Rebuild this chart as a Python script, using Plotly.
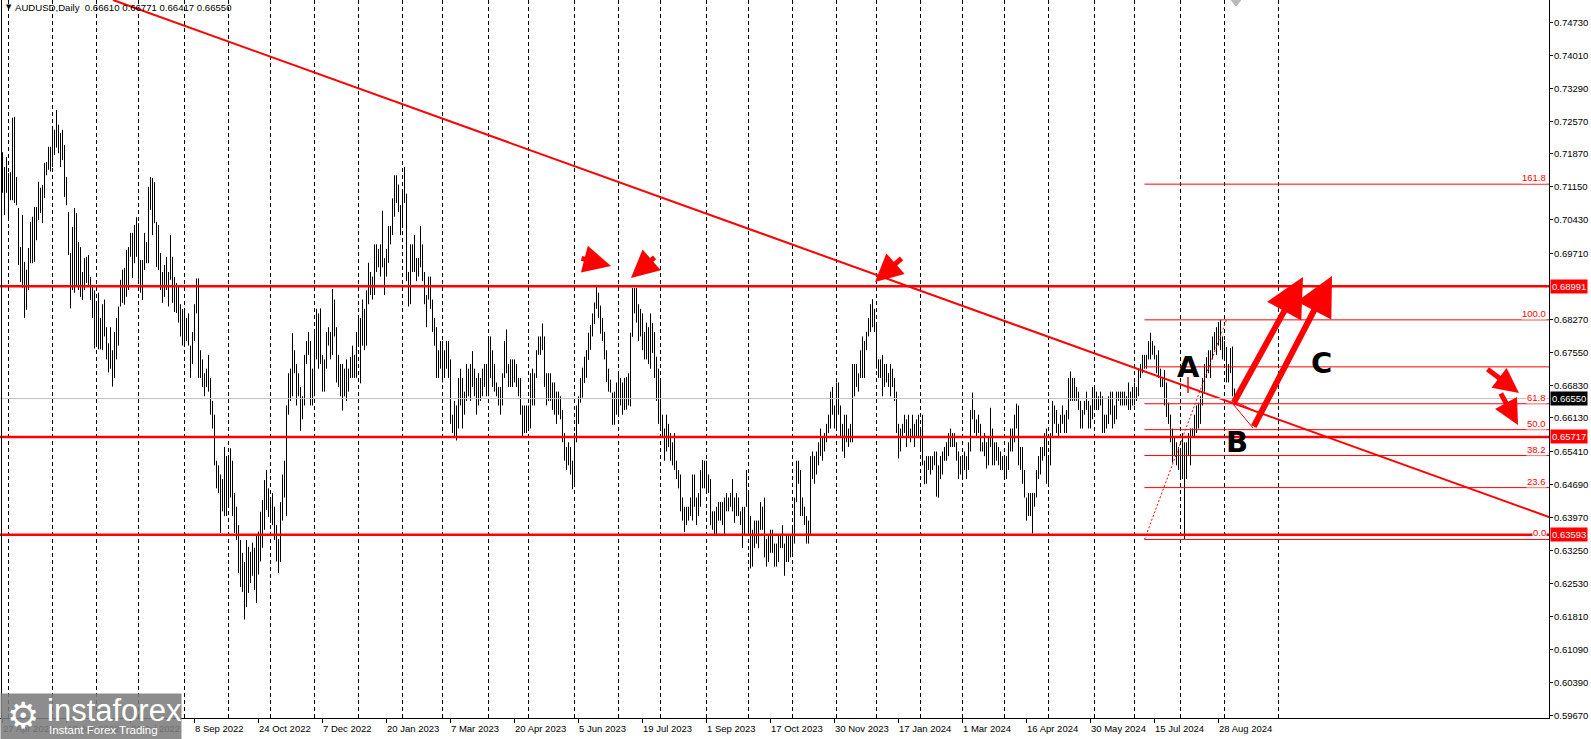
import plotly.graph_objects as go
import pandas as pd

# ---------------- data (prices in 1/10000) ----------------
H22 = [7190, 7158, 7180,
       7145, 7147, 7265, 7267, 7136, 7069, 6984, 7054, 6952, 6935, 6982, 7039, 7050, 7071, 7071, 7126, 7113, 7119, 7167, 7169, 7202, 7202,
       7239, 7239, 7282, 7250, 7232, 7239, 7206, 7136, 7060, 6971, 7028, 7069, 7058, 6995, 6984, 6930, 6960, 6963, 6967, 6919, 6902, 6890,
       6860, 6885, 6830, 6860, 6870, 6810, 6775, 6810, 6760, 6800, 6830, 6855, 6913, 6935, 6939, 6978, 6984, 7015, 7015, 7032, 7049,
       7036, 6956, 6956, 7015, 6995, 7115, 7136, 7134, 7125, 7039, 7032, 6971, 6930, 6945, 6963, 6930, 7010, 6963, 6919, 6906, 6900, 6860, 6850,
       6845, 6830, 6840, 6770, 6800, 6860, 6916, 6916, 6760, 6740, 6710, 6720, 6750, 6700, 6650, 6620, 6520, 6510, 6490, 6480, 6550, 6530,
       6530, 6547, 6520, 6450, 6420, 6380, 6348, 6320, 6300, 6348, 6333, 6322, 6342, 6331, 6359, 6366, 6409, 6435, 6478, 6500, 6460,
       6440, 6450, 6420, 6380, 6350, 6430, 6490, 6520, 6640, 6710, 6720, 6797, 6760, 6730, 6710, 6680, 6660, 6750, 6780, 6800, 6780, 6720,
       6800, 6850, 6840, 6851, 6750, 6740, 6800, 6810, 6800, 6893, 6870, 6810, 6750, 6730, 6730, 6720, 6740, 6720, 6745, 6770, 6750, 6800]
L22 = [7102, 7054, 7102,
       7043, 7086, 7086, 7080, 7075, 6945, 6908, 6896, 6830, 6848, 6891, 6949, 6949, 6952, 6999, 7043, 7058, 7036, 7091, 7140, 7152, 7148,
       7158, 7184, 7200, 7188, 7158, 7173, 7093, 7075, 6967, 6851, 6891, 6885, 6898, 6891, 6876, 6869, 6891, 6906, 6898, 6869, 6830, 6764,
       6770, 6762, 6762, 6760, 6790, 6740, 6712, 6720, 6681, 6700, 6740, 6770, 6855, 6863, 6859, 6876, 6891, 6963, 6917, 6949, 6963,
       6913, 6885, 6869, 6934, 6949, 6949, 7065, 7010, 7036, 6941, 6934, 6891, 6863, 6876, 6891, 6855, 6913, 6863, 6843, 6841, 6820, 6790, 6770,
       6770, 6780, 6770, 6700, 6730, 6780, 6840, 6700, 6700, 6680, 6660, 6680, 6670, 6620, 6590, 6510, 6460, 6450, 6363, 6410, 6400, 6400,
       6420, 6440, 6400, 6363, 6348, 6276, 6246, 6235, 6175, 6202, 6233, 6254, 6270, 6239, 6211, 6273, 6301, 6331, 6370, 6413, 6398,
       6385, 6380, 6348, 6301, 6276, 6300, 6390, 6440, 6400, 6620, 6650, 6660, 6710, 6640, 6660, 6585, 6610, 6640, 6730, 6750, 6640, 6640,
       6660, 6740, 6720, 6730, 6670, 6670, 6720, 6770, 6740, 6750, 6790, 6690, 6680, 6660, 6629, 6660, 6650, 6670, 6700, 6700, 6700, 6700]

H23 = [6830, 6830, 6870, 6850, 6890, 6950, 6930, 6920, 6990, 6990, 6980, 6990, 7063, 6960, 6980, 7030, 7030, 7090, 7140, 7140, 7120, 7075,
       7110, 7158, 7100, 6930, 6990, 6990, 7010, 6960, 6960, 7030, 6990, 6930, 6880, 6920, 6920, 6870, 6830, 6810, 6760, 6780,
       6780, 6760, 6780, 6780, 6740, 6620, 6650, 6640, 6700, 6720, 6700, 6670, 6730, 6720, 6730, 6758, 6720, 6700, 6710, 6700, 6720, 6730, 6730,
       6790, 6790, 6760, 6730, 6690, 6680, 6680, 6710, 6780, 6805, 6730, 6740, 6740, 6740, 6730, 6700, 6700, 6640, 6640, 6640,
       6640, 6710, 6720, 6710, 6760, 6790, 6790, 6818, 6790, 6710, 6710, 6710, 6690, 6690, 6670, 6670, 6660, 6630, 6580, 6550, 6560, 6550, 6520,
       6580, 6640, 6660, 6700, 6722, 6746, 6760, 6798, 6815, 6840, 6864, 6902, 6885, 6857, 6830, 6800, 6760, 6720, 6696, 6668, 6670, 6690,
       6707, 6700, 6690, 6700, 6702, 6710, 6798, 6895, 6895, 6895, 6860, 6850, 6840, 6800, 6820, 6810, 6840, 6819, 6800, 6746, 6720,
       6700, 6620, 6590, 6620, 6600, 6580, 6560, 6580, 6520, 6500, 6490, 6440, 6420, 6420, 6420, 6440, 6490, 6490, 6440, 6450, 6500, 6522, 6520,
       6520, 6490, 6480, 6410, 6410, 6420, 6430, 6430, 6430, 6440, 6450, 6440, 6450, 6480, 6440, 6450, 6440, 6410, 6420, 6420, 6500,
       6450, 6400, 6370, 6390, 6390, 6390, 6430, 6420, 6440, 6350, 6360, 6370, 6370, 6340, 6340, 6360, 6360, 6380, 6340, 6360, 6360, 6360,
       6380, 6440, 6520, 6520, 6500, 6440, 6420, 6400, 6390, 6530, 6540, 6530, 6540, 6560, 6590, 6570, 6580, 6600, 6620, 6670, 6680, 6640,
       6690, 6690, 6640, 6600, 6620, 6620, 6590, 6600, 6730, 6730, 6730, 6710, 6760, 6790, 6780, 6800, 6830, 6860, 6871, 6850]
L23 = [6770, 6688, 6770, 6760, 6770, 6860, 6880, 6870, 6880, 6930, 6940, 6920, 6940, 6880, 6920, 6950, 6990, 7010, 7050, 7080, 7060, 7010,
       7030, 7080, 6910, 6855, 6860, 6930, 6930, 6910, 6920, 6940, 6910, 6860, 6810, 6870, 6850, 6800, 6770, 6700, 6700, 6720,
       6690, 6700, 6720, 6700, 6600, 6580, 6570, 6564, 6590, 6640, 6590, 6620, 6650, 6660, 6650, 6680, 6660, 6620, 6640, 6650, 6660, 6680, 6660,
       6660, 6700, 6680, 6670, 6660, 6640, 6620, 6640, 6700, 6710, 6680, 6680, 6680, 6690, 6680, 6660, 6620, 6573, 6580, 6580,
       6590, 6590, 6640, 6640, 6700, 6750, 6750, 6760, 6680, 6640, 6650, 6650, 6630, 6620, 6600, 6620, 6610, 6560, 6520, 6500, 6510, 6490, 6458,
       6470, 6560, 6600, 6646, 6657, 6689, 6700, 6739, 6761, 6790, 6817, 6850, 6830, 6796, 6780, 6740, 6691, 6670, 6668, 6598, 6598, 6620,
       6616, 6640, 6620, 6630, 6631, 6640, 6638, 6789, 6840, 6820, 6780, 6790, 6760, 6740, 6740, 6730, 6720, 6754, 6700, 6650, 6600,
       6587, 6570, 6520, 6540, 6550, 6520, 6510, 6500, 6480, 6460, 6410, 6390, 6365, 6380, 6390, 6400, 6390, 6420, 6380, 6400, 6420, 6460, 6460,
       6450, 6450, 6380, 6370, 6357, 6360, 6390, 6390, 6380, 6360, 6410, 6410, 6420, 6410, 6385, 6400, 6400, 6380, 6330, 6360, 6420,
       6360, 6286, 6290, 6330, 6340, 6330, 6370, 6370, 6310, 6290, 6300, 6320, 6320, 6290, 6290, 6300, 6330, 6330, 6270, 6300, 6300, 6310,
       6320, 6340, 6430, 6470, 6400, 6400, 6380, 6340, 6340, 6360, 6480, 6470, 6490, 6510, 6530, 6520, 6540, 6560, 6580, 6590, 6620, 6590,
       6590, 6620, 6570, 6540, 6526, 6560, 6550, 6560, 6560, 6660, 6680, 6670, 6700, 6700, 6700, 6760, 6790, 6800, 6810, 6800]

H24 = [6820, 6740, 6740, 6750, 6730, 6730, 6710, 6730, 6720, 6700, 6670, 6600, 6590, 6600, 6620, 6610, 6620, 6590, 6620, 6600, 6610, 6620,
       6590, 6620, 6520, 6530, 6530, 6530, 6530, 6540, 6540, 6510, 6530, 6540, 6550, 6560, 6580, 6590, 6580, 6580, 6560, 6540, 6530,
       6530, 6540, 6530, 6560, 6630, 6668, 6630, 6610, 6620, 6600, 6560, 6580, 6560, 6570, 6635, 6590, 6560, 6560, 6550, 6540, 6530,
       6530, 6530, 6560, 6590, 6590, 6620, 6644, 6640, 6550, 6550, 6500, 6440, 6450, 6450, 6450, 6450, 6500, 6530, 6550, 6550, 6580, 6590,
       6530, 6580, 6650, 6640, 6630, 6600, 6620, 6640, 6620, 6630, 6700, 6714, 6700, 6700, 6680, 6670, 6650, 6630, 6650, 6670, 6650, 6640, 6680,
       6680, 6670, 6660, 6670, 6660, 6620, 6620, 6660, 6670, 6670, 6640, 6670, 6670, 6670, 6670, 6670, 6660, 6690, 6670, 6680,
       6690, 6680, 6720, 6730, 6750, 6750, 6750, 6780, 6798, 6780, 6770, 6750, 6760, 6720, 6700, 6717, 6690, 6646, 6620, 6590, 6572, 6560, 6550,
       6540, 6580, 6560, 6560, 6580, 6590, 6590, 6620, 6640, 6646, 6660, 6700, 6730, 6745, 6760, 6760, 6790, 6800, 6810, 6821, 6826, 6790,
       6780, 6767, 6730, 6765, 6768, 6677]
L24 = [6720, 6700, 6700, 6660, 6680, 6690, 6680, 6660, 6680, 6650, 6580, 6525, 6540, 6570, 6580, 6550, 6570, 6560, 6570, 6550, 6570, 6570,
       6540, 6510, 6469, 6470, 6500, 6490, 6500, 6510, 6442, 6440, 6480, 6490, 6520, 6520, 6530, 6550, 6550, 6550, 6520, 6480, 6490,
       6480, 6500, 6480, 6500, 6540, 6610, 6580, 6570, 6580, 6540, 6540, 6530, 6503, 6510, 6550, 6510, 6510, 6520, 6510, 6500, 6500,
       6480, 6480, 6500, 6540, 6540, 6560, 6590, 6510, 6500, 6470, 6440, 6390, 6400, 6400, 6362, 6420, 6440, 6480, 6490, 6520, 6530, 6470,
       6470, 6510, 6570, 6600, 6580, 6570, 6580, 6600, 6580, 6580, 6610, 6650, 6650, 6650, 6650, 6630, 6590, 6590, 6620, 6630, 6590, 6590, 6610,
       6630, 6630, 6630, 6640, 6580, 6580, 6590, 6600, 6620, 6590, 6600, 6610, 6650, 6640, 6640, 6640, 6640, 6630, 6630, 6640,
       6640, 6650, 6660, 6700, 6710, 6720, 6720, 6740, 6740, 6750, 6740, 6710, 6700, 6680, 6680, 6640, 6615, 6600, 6560, 6516, 6530, 6510, 6500,
       6478, 6480, 6350, 6480, 6530, 6510, 6570, 6570, 6580, 6590, 6600, 6640, 6670, 6700, 6710, 6700, 6740, 6760, 6750, 6770, 6760, 6740,
       6740, 6690, 6690, 6710, 6660, 6642]

first_day = "2022-04-27"
skip_days = ["2023-12-25", "2024-01-01"]
header = "AUDUSD,Daily  0.66610 0.66771 0.66417 0.66550"
last_price = 0.66550
levels = [0.68991, 0.65717, 0.63593]
fib_low, fib_high = 0.6349, 0.6826
fib_ratios = [0.0, 0.236, 0.382, 0.5, 0.618, 0.786, 1.0, 1.618]
fib_labels = ["0.0", "23.6", "38.2", "50.0", "61.8", "", "100.0", "161.8"]
y_ticks = [0.74730, 0.74010, 0.73290, 0.72570, 0.71870, 0.71150, 0.70430, 0.69710, 0.68270, 0.67550,
           0.66830, 0.66130, 0.65410, 0.64690, 0.63970, 0.63250, 0.62530, 0.61810, 0.61090, 0.60390, 0.59670]

highs = [v / 10000 for v in H22 + H23 + H24]
lows = [v / 10000 for v in L22 + L23 + L24]
n = len(highs)

days = pd.bdate_range(first_day, "2024-10-31")
days = days[~days.isin(pd.to_datetime(skip_days))]
bar_days = days[:n]
last_day = bar_days[-1]

# ---------------- geometry helpers ----------------
X0, X1 = -1.25, 773.25
Y0, Y1 = 0.596114, 0.752079
W, H = 1591, 739
PW = 1549
PH = 718


def px2x(px):
    return X0 + px / PW * (X1 - X0)


def px2y(py):
    return Y1 - py / PH * (Y1 - Y0)


RED = "#ff0000"
FONT = "Liberation Sans"

fig = go.Figure()

# bars
bx, by = [], []
for k in range(n):
    bx += [k, k, None]
    by += [lows[k], highs[k], None]
fig.add_trace(go.Scatter(x=bx, y=by, mode="lines", line=dict(color="black", width=1),
                         hoverinfo="skip", showlegend=False))

shapes = []
# month separators (future months counted in calendar days, as the terminal does)
sep_idx = []
prev = None
for k, d in enumerate(days):
    if prev is not None and d.month != prev.month:
        if k < n:
            sep_idx.append(k)
        else:
            sep_idx.append(n - 1 + (d - last_day).days)
    prev = d
for k in sep_idx:
    shapes.append(dict(type="line", xref="x", yref="paper", x0=k, x1=k, y0=0, y1=1,
                       line=dict(color="black", width=1, dash="4px,3px"), layer="below"))

# current price line
shapes.append(dict(type="line", xref="paper", yref="y", x0=0, x1=1, y0=last_price, y1=last_price,
                   line=dict(color="#c0c0c0", width=1)))
# fib lines
fib_start = 571
fib_vals = [fib_low + r * (fib_high - fib_low) for r in fib_ratios]
for v in fib_vals:
    shapes.append(dict(type="line", xref="x", yref="y", x0=fib_start, x1=X1, y0=v, y1=v,
                       line=dict(color=RED, width=1)))
# horizontal levels
for v in levels:
    shapes.append(dict(type="line", xref="paper", yref="y", x0=0, x1=1, y0=v, y1=v,
                       line=dict(color=RED, width=2.5)))
# small red tick under A
shapes.append(dict(type="line", xref="x", yref="y", x0=px2x(1188), x1=px2x(1188), y0=px2y(377), y1=px2y(393),
                   line=dict(color=RED, width=1.5)))
# thin lines near B
shapes.append(dict(type="line", xref="x", yref="y", x0=px2x(1233), x1=px2x(1253), y0=px2y(404), y1=px2y(428),
                   line=dict(color=RED, width=1)))
shapes.append(dict(type="line", xref="x", yref="y", x0=px2x(1236), x1=px2x(1257), y0=px2y(402), y1=px2y(412),
                   line=dict(color=RED, width=1)))
# left border
shapes.append(dict(type="line", xref="paper", yref="paper", x0=1.5 / PW, x1=1.5 / PW, y0=0, y1=1,
                   line=dict(color="black", width=1)))
# chart-shift marker at the top
sx = px2x(1236)
dx = px2x(5) - px2x(0)
shapes.append(dict(type="path", xref="x", yref="paper",
                   path=f"M{sx - dx},1 L{sx + dx},1 L{sx},{1 - 6 / PH} Z",
                   fillcolor="#b8b8b8", line=dict(color="#b8b8b8", width=1)))

# trendline
fig.add_trace(go.Scatter(x=[px2x(113), px2x(1549)], y=[px2y(0), px2y(517)], mode="lines",
                         line=dict(color=RED, width=2), hoverinfo="skip", showlegend=False))
# fib diagonal
fig.add_trace(go.Scatter(x=[fib_start, 612], y=[fib_low, fib_high], mode="lines",
                         line=dict(color=RED, width=1, dash="2px,2px"), hoverinfo="skip", showlegend=False))

ann = []
# x labels
for k in range(0, n, 32):
    d = bar_days[k]
    ann.append(dict(xref="x", yref="paper", x=k, y=0, xanchor="left", yanchor="top", xshift=-2, yshift=-3,
                    text=f"{d.day} {d.strftime('%b %Y')}", showarrow=False,
                    font=dict(family=FONT, size=9.5, color="black")))
# y labels
for v in y_ticks:
    ann.append(dict(xref="paper", yref="y", x=1, y=v, xanchor="left", yanchor="middle", xshift=3,
                    text=f"{v:.5f}", showarrow=False, font=dict(family=FONT, size=9.5, color="black")))
# header
ann.append(dict(xref="paper", yref="paper", x=0, y=1, xanchor="left", yanchor="top", xshift=4, yshift=-1,
                text="▼", showarrow=False, font=dict(family="DejaVu Sans", size=7, color="black")))
ann.append(dict(xref="paper", yref="paper", x=0, y=1, xanchor="left", yanchor="top", xshift=13, yshift=0,
                text=header.replace("  ", "&nbsp; "), showarrow=False,
                font=dict(family=FONT, size=9.6, color="black")))
# fib labels
for v, t in zip(fib_vals, fib_labels):
    if t:
        ann.append(dict(xref="paper", yref="y", x=1, y=v, xanchor="right", yanchor="bottom", xshift=-2, yshift=0,
                        text=t, showarrow=False, bgcolor="white", borderpad=0,
                        font=dict(family=FONT, size=9.5, color=RED)))
# price boxes
for v, c in [(levels[0], RED), (last_price, "black"), (levels[1], RED), (levels[2], RED)]:
    ann.append(dict(xref="paper", yref="y", x=1, y=v, xanchor="left", yanchor="middle", xshift=1,
                    text=f"{v:.5f}", showarrow=False, bgcolor=c, borderpad=1,
                    font=dict(family=FONT, size=9.5, color="white")))


def arrow(t, h, width, size, head=2):
    return dict(xref="x", yref="y", axref="x", ayref="y", x=px2x(h[0]), y=px2y(h[1]),
                ax=px2x(t[0]), ay=px2y(t[1]), showarrow=True, arrowhead=head, arrowsize=size,
                arrowwidth=width, arrowcolor=RED, text="")


ann.append(arrow((580, 258), (611, 266), 5, 1.1))
ann.append(arrow((656, 256), (631, 278), 5, 1.1))
ann.append(arrow((903, 257), (875, 282), 5, 1.1))
ann.append(arrow((1486, 368), (1519, 393), 5, 1.0))
ann.append(arrow((1500, 392), (1518, 425), 5, 1.0))
ann.append(arrow((1233, 404), (1303, 277), 6, 1.3))
ann.append(arrow((1253, 428), (1332, 276), 6, 1.3))

for t, (px, py) in [("A", (1188, 367)), ("B", (1237, 442)), ("C", (1321, 363))]:
    ann.append(dict(xref="x", yref="y", x=px2x(px), y=px2y(py), text=f"<b>{t}</b>", showarrow=False,
                    xanchor="center", yanchor="middle", font=dict(family="DejaVu Sans", size=29, color="black")))

# logo box
ann.append(dict(xref="paper", yref="paper", x=0, y=(PH - 693) / PH, xanchor="left", yanchor="top",
                text="", showarrow=False, width=180, height=46, bgcolor="rgba(125,125,125,0.88)", borderpad=0))
ann.append(dict(xref="paper", yref="paper", x=5 / PW, y=(PH - 715) / PH, xanchor="left", yanchor="middle",
                text="⚙", showarrow=False, font=dict(family="DejaVu Sans", size=36, color="white")))
ann.append(dict(xref="paper", yref="paper", x=45 / PW, y=(PH - 710) / PH, xanchor="left", yanchor="middle",
                text="instaforex", showarrow=False, font=dict(family="Liberation Sans", size=31, color="white")))
ann.append(dict(xref="paper", yref="paper", x=47 / PW, y=(PH - 730) / PH, xanchor="left", yanchor="middle",
                text="Instant Forex Trading", showarrow=False, font=dict(family="Liberation Sans", size=11.5, color="white")))

fig.update_layout(
    template="none", width=W, height=H,
    margin=dict(l=0, r=W - PW, t=0, b=H - PH, pad=0),
    paper_bgcolor="white", plot_bgcolor="white",
    showlegend=False, shapes=shapes, annotations=ann,
    xaxis=dict(range=[X0, X1], showgrid=False, zeroline=False, showline=True, linecolor="black", linewidth=1,
               ticks="outside", ticklen=4, tickcolor="black", tickvals=list(range(0, n, 32)),
               showticklabels=False, automargin=False, fixedrange=True),
    yaxis=dict(range=[Y0, Y1], side="right", showgrid=False, zeroline=False, showline=True, linecolor="black",
               linewidth=1, ticks="outside", ticklen=3, tickcolor="black", tickvals=y_ticks,
               showticklabels=False, automargin=False, fixedrange=True),
)

fig.write_html("out.html", config={"displayModeBar": False},
               post_script="document.body.style.margin='0px';document.body.style.overflow='hidden';")
